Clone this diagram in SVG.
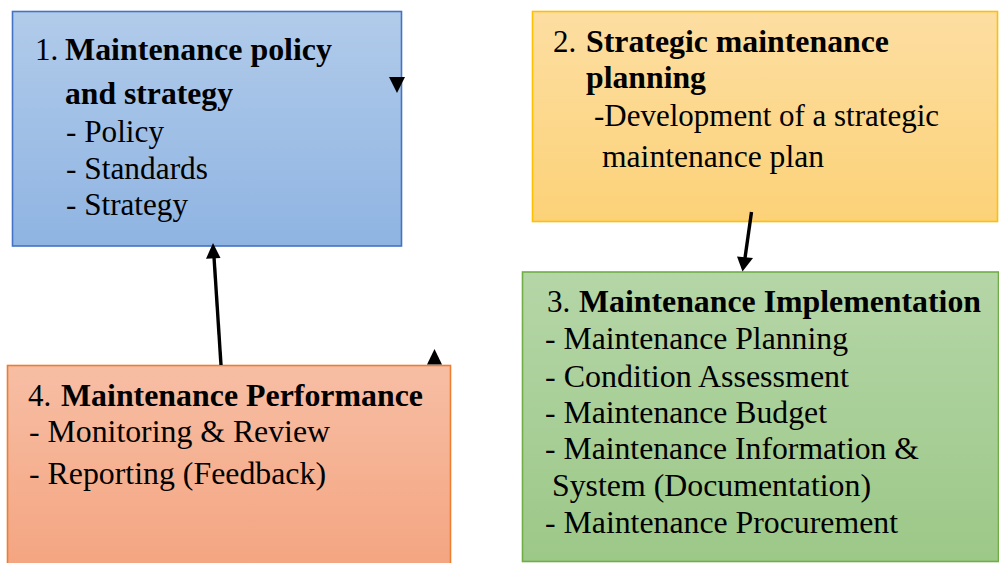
<svg xmlns="http://www.w3.org/2000/svg" width="999" height="563" viewBox="0 0 999 563">
<style>
text{font-family:"Liberation Serif","Times New Roman",serif;font-size:31px;fill:#000}
.b{font-weight:bold}
.box{stroke-width:1.6}
.conn{stroke:#000;stroke-width:3.4;fill:none}
.head{fill:#000}
</style>
<defs>
<linearGradient id="g1" x1="0" y1="0" x2="0" y2="1"><stop offset="0" stop-color="#b1cbea"/><stop offset="1" stop-color="#8fb4e2"/></linearGradient>
<linearGradient id="g2" x1="0" y1="0" x2="0" y2="1"><stop offset="0" stop-color="#fddea2"/><stop offset="1" stop-color="#fcd278"/></linearGradient>
<linearGradient id="g3" x1="0" y1="0" x2="0" y2="1"><stop offset="0" stop-color="#b5d6a7"/><stop offset="1" stop-color="#9cc888"/></linearGradient>
<linearGradient id="g4" x1="0" y1="0" x2="0" y2="1"><stop offset="0" stop-color="#f7bea4"/><stop offset="1" stop-color="#f4a581"/></linearGradient>
</defs>

<g id="node1">
<rect class="box" x="12.5" y="11.5" width="389" height="234.5" fill="url(#g1)" stroke="#4472c4"/>
<text x="35" y="60">1.</text>
<text class="b" x="65" y="60" textLength="267" lengthAdjust="spacingAndGlyphs">Maintenance policy</text>
<text class="b" x="65" y="104" textLength="168" lengthAdjust="spacingAndGlyphs">and strategy</text>
<text x="66" y="142" textLength="98" lengthAdjust="spacingAndGlyphs">- Policy</text>
<text x="66" y="179" textLength="142" lengthAdjust="spacingAndGlyphs">- Standards</text>
<text x="66" y="215" textLength="122" lengthAdjust="spacingAndGlyphs">- Strategy</text>
</g>

<g id="node2">
<rect class="box" x="532.5" y="11.5" width="465" height="210" fill="url(#g2)" stroke="#ffc000"/>
<text x="553" y="52">2.</text>
<text class="b" x="586" y="52" textLength="303" lengthAdjust="spacingAndGlyphs">Strategic maintenance</text>
<text class="b" x="586" y="88" textLength="120" lengthAdjust="spacingAndGlyphs">planning</text>
<text x="594" y="126" textLength="345" lengthAdjust="spacingAndGlyphs">-Development of a strategic</text>
<text x="602" y="167" textLength="222" lengthAdjust="spacingAndGlyphs">maintenance plan</text>
</g>

<g id="node3">
<rect class="box" x="522.5" y="272" width="476" height="289.5" fill="url(#g3)" stroke="#70ad47"/>
<text x="547" y="312">3.</text>
<text class="b" x="579" y="312" textLength="402" lengthAdjust="spacingAndGlyphs">Maintenance Implementation</text>
<text x="545" y="349" textLength="303" lengthAdjust="spacingAndGlyphs">- Maintenance Planning</text>
<text x="545" y="387" textLength="304" lengthAdjust="spacingAndGlyphs">- Condition Assessment</text>
<text x="545" y="423" textLength="282" lengthAdjust="spacingAndGlyphs">- Maintenance Budget</text>
<text x="545" y="459" textLength="374" lengthAdjust="spacingAndGlyphs">- Maintenance Information &amp;</text>
<text x="552" y="496" textLength="319" lengthAdjust="spacingAndGlyphs">System (Documentation)</text>
<text x="545" y="533" textLength="353" lengthAdjust="spacingAndGlyphs">- Maintenance Procurement</text>
</g>

<g id="node4">
<rect class="box" x="7.5" y="365.5" width="443" height="200" fill="url(#g4)" stroke="#ed7d31"/>
<text x="28" y="406">4.</text>
<text class="b" x="61" y="406" textLength="362" lengthAdjust="spacingAndGlyphs">Maintenance Performance</text>
<text x="29" y="442" textLength="301" lengthAdjust="spacingAndGlyphs">- Monitoring &amp; Review</text>
<text x="29" y="484" textLength="297" lengthAdjust="spacingAndGlyphs">- Reporting (Feedback)</text>
</g>

<g id="connectors">
<line class="conn" x1="221" y1="365" x2="213.8" y2="254"/>
<path class="head" d="M213,243 L220.5,258 L206,258.8 Z"/>
<line class="conn" x1="751.5" y1="212" x2="745" y2="258"/>
<path class="head" d="M742.5,271.5 L737,256.5 L753,258 Z"/>
<path class="head" d="M389,77 L405,77 L397,93 Z"/>
<path class="head" d="M427,364.5 L442,364.5 L434.5,349 Z"/>
</g>
</svg>
